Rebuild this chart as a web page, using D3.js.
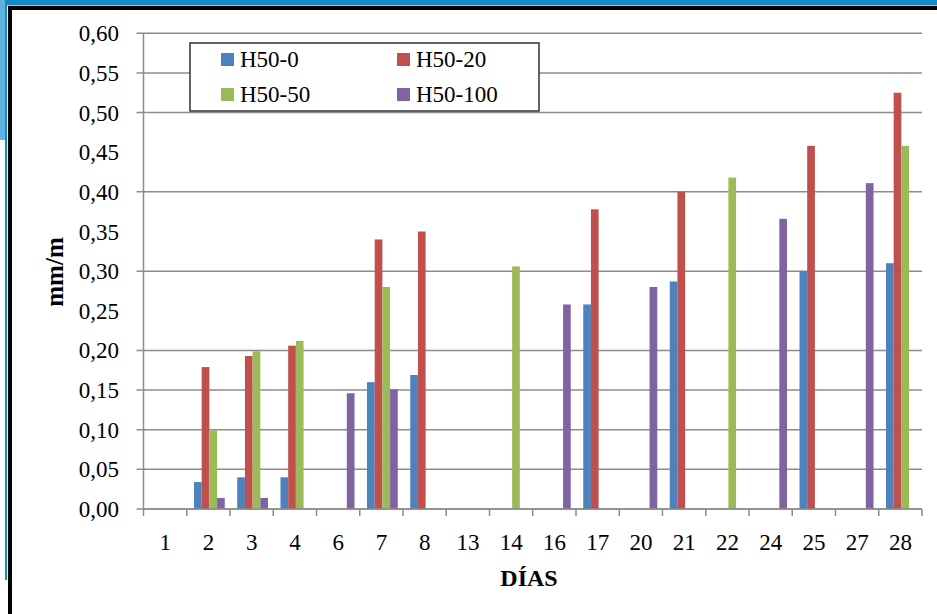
<!DOCTYPE html>
<html>
<head>
<meta charset="utf-8">
<script src="https://cdn.jsdelivr.net/npm/d3@7"></script>
<style>
  html, body { margin: 0; padding: 0; background: #fff; }
  svg { display: block; }
</style>
</head>
<body>
<svg id="chart" width="937" height="614"></svg>
<script>
// ---- data ----
const days = ["1","2","3","4","6","7","8","13","14","16","17","20","21","22","24","25","27","28"];
const seriesNames = ["H50-0","H50-20","H50-50","H50-100"];
const h50_0   = [null,0.034,0.040,0.040,null,0.160,0.169,null,null,null,0.258,null,0.287,null,null,0.300,null,0.310];
const h50_20  = [null,0.179,0.193,0.206,null,0.340,0.350,null,null,null,0.378,null,0.400,null,null,0.458,null,0.525];
const h50_50  = [null,0.099,0.199,0.212,null,0.280,null,null,0.306,null,null,null,null,0.418,null,null,null,0.458];
const h50_100 = [null,0.014,0.014,null,0.146,0.151,null,null,null,0.258,null,0.280,null,null,0.366,null,0.411,null];
const yTicks = [0,0.05,0.10,0.15,0.20,0.25,0.30,0.35,0.40,0.45,0.50,0.55,0.60];
const gridValues = [0,0.05,0.10,0.15,0.20,0.30,0.40,0.50,0.55,0.60];
const colors = ["#4f81bd","#c0504d","#9bbb59","#8064a2"];
const yTitle = "mm/m";
const xTitle = "DÍAS";

const seriesValues = [h50_0, h50_20, h50_50, h50_100];
const FONT = "'Times New Roman', 'Liberation Serif', 'DejaVu Serif', serif";

const svg = d3.select("#chart");

// ---- frame ----
svg.append("rect").attr("x",0).attr("y",0).attr("width",937).attr("height",5.5).attr("fill","#158bc6");
svg.append("rect").attr("x",0).attr("y",0).attr("width",6).attr("height",140).attr("fill","#5fb3df");
svg.append("rect").attr("x",5).attr("y",0).attr("width",2).attr("height",580).attr("fill","#158bc6");
svg.append("rect").attr("x",8).attr("y",6).attr("width",929).attr("height",4).attr("fill","#000");
svg.append("rect").attr("x",8).attr("y",6).attr("width",4).attr("height",608).attr("fill","#000");

// ---- scales ----
const pLeft = 143.5, pRight = 922, pTop = 33.3, pBottom = 509;
const y = d3.scaleLinear().domain([0,0.6]).range([pBottom, pTop]);
const x0 = d3.scaleBand().domain(days).range([pLeft, pRight]);
const x1 = d3.scaleBand().domain(seriesNames).range([0, x0.bandwidth()]).paddingOuter(0.81);

// ---- gridlines ----
svg.append("g").selectAll("line").data(gridValues).join("line")
  .attr("x1", pLeft - 7).attr("x2", pRight)
  .attr("y1", d => y(d)).attr("y2", d => y(d))
  .attr("stroke", "#8c8c8c").attr("stroke-width", 1.5);

// y axis line
svg.append("line").attr("x1",pLeft).attr("x2",pLeft).attr("y1",pTop).attr("y2",pBottom)
  .attr("stroke","#8c8c8c").attr("stroke-width",1.5);

// y tick labels
const fmt = d => d3.format(".2f")(d).replace(".", ",");
svg.append("g").selectAll("text").data(yTicks).join("text")
  .attr("x", 119).attr("y", d => y(d))
  .attr("dy", "0.35em")
  .attr("text-anchor","end")
  .style("font-family", FONT).style("font-size", "23px").attr("fill", "#000")
  .text(fmt);

// ---- bars ----
const gBars = svg.append("g");
days.forEach((day, i) => {
  seriesNames.forEach((s, j) => {
    const v = seriesValues[j][i];
    if (v == null) return;
    gBars.append("rect")
      .attr("x", x0(day) + x1(s) + 1)
      .attr("width", x1.bandwidth())
      .attr("y", y(v))
      .attr("height", y(0) - y(v))
      .attr("fill", colors[j]);
  });
});

// ---- x axis ----
svg.append("line").attr("x1",pLeft).attr("x2",pRight).attr("y1",pBottom).attr("y2",pBottom)
  .attr("stroke","#8c8c8c").attr("stroke-width",1.5);
const boundaries = days.map(d => x0(d)).concat([pRight]);
svg.append("g").selectAll("line").data(boundaries).join("line")
  .attr("x1", d => d).attr("x2", d => d).attr("y1", pBottom).attr("y2", pBottom + 7)
  .attr("stroke","#8c8c8c").attr("stroke-width",1.5);
svg.append("g").selectAll("text").data(days).join("text")
  .attr("x", d => x0(d) + x0.bandwidth()/2)
  .attr("y", 550)
  .attr("text-anchor","middle")
  .style("font-family", FONT).style("font-size", "23px").attr("fill", "#000")
  .text(d => d);

// ---- titles ----
svg.append("text").attr("x", 529).attr("y", 586).attr("text-anchor","middle")
  .style("font-family", FONT).style("font-size", "24px").style("font-weight","bold").text(xTitle);
svg.append("text").attr("transform","translate(63,272) rotate(-90)").attr("text-anchor","middle")
  .style("font-family", FONT).style("font-size", "25px").style("font-weight","bold").text(yTitle);

// ---- legend ----
const lg = svg.append("g");
lg.append("rect").attr("x",190).attr("y",43).attr("width",349).attr("height",68)
  .attr("fill","#fff").attr("stroke","#333").attr("stroke-width",1.5);
const legPos = [[221,53],[397,53],[221,88],[397,88]];
seriesNames.forEach((s, j) => {
  const [lx, ly] = legPos[j];
  lg.append("rect").attr("x",lx).attr("y",ly).attr("width",13).attr("height",13).attr("fill",colors[j]);
  lg.append("text").attr("x",lx+19).attr("y",ly+14)
    .style("font-family", FONT).style("font-size", "23px").attr("fill","#000").text(s);
});
</script>
</body>
</html>
